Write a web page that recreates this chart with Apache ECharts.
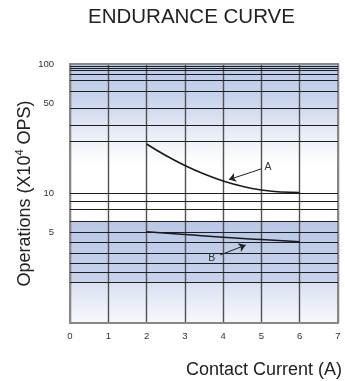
<!DOCTYPE html>
<html><head><meta charset="utf-8">
<script src="https://cdn.jsdelivr.net/npm/echarts@6/dist/echarts.min.js"></script>
<style>html,body{margin:0;padding:0;background:#fff}#c{width:345px;height:381px}</style>
</head><body><div id="c"></div>
<script>
// ---- data ----
const xTicks = [0, 1, 2, 3, 4, 5, 6, 7];
const yTickLabels = [5, 10, 50, 100];
const yGridValues = [96.5, 93.1, 89.1, 83.7, 74.6, 61.3, 45.5, 33.6, 25.1, 10, 8.7, 7.6, 6.06, 5.02, 4.2, 3.45, 2.89, 2.45, 2.06];
const currentA = [2, 2.5, 3, 3.5, 4, 4.5, 5, 5.5, 6];
const opsA = [24.1, 19.66, 16.45, 14.15, 12.49, 11.36, 10.64, 10.27, 10.18];
const currentB = [2, 3, 4, 5, 6];
const opsB = [5.07, 4.83, 4.59, 4.41, 4.24];
const bandRanges = [[100, 16.6], [6.06, 2.06], [2.06, 1]];
const labelA = { text: 'A', at: [5.17, 15.9], arrowFrom: [5.0, 15.5], arrowTo: [4.15, 12.8] };
const labelB = { text: 'B', at: [3.7, 3.19], arrowFrom: [3.92, 3.35], arrowTo: [4.59, 4.0] };

const FONT = 'Liberation Sans';
const bandColors = [
  { type: 'linear', x: 0, y: 0, x2: 0, y2: 1, colorStops: [
    { offset: 0, color: '#b9c8e7' }, { offset: 0.35, color: '#c9d5ed' },
    { offset: 0.6, color: '#e0e6f4' }, { offset: 0.78, color: '#f0f3f9' }, { offset: 1, color: '#ffffff' }] },
  { type: 'linear', x: 0, y: 0, x2: 0, y2: 1, colorStops: [
    { offset: 0, color: '#bac8e7' }, { offset: 1, color: '#c8d3ec' }] },
  { type: 'linear', x: 0, y: 0, x2: 0, y2: 1, colorStops: [
    { offset: 0, color: '#d9e1f2' }, { offset: 1, color: '#f7f8fc' }] }
];

function zip(xs, ys) { return xs.map((x, i) => [x, ys[i]]); }
function annot(a) {
  return {
    markLine: {
      silent: true, symbol: ['none', 'arrow'], symbolSize: 7, label: { show: false },
      lineStyle: { color: '#222', width: 1, type: 'solid' },
      data: [[{ coord: a.arrowFrom }, { coord: a.arrowTo }]]
    },
    markPoint: {
      silent: true, symbol: 'circle', symbolSize: 0,
      label: { show: true, position: 'inside', formatter: a.text, color: '#333', fontSize: 10.5, fontFamily: FONT },
      data: [{ coord: a.at }]
    }
  };
}

const chart = echarts.init(document.getElementById('c'), null, { renderer: 'canvas' });
chart.setOption({
  animation: false,
  backgroundColor: '#ffffff',
  title: {
    text: 'ENDURANCE CURVE', left: 88, top: 7, padding: 0,
    textStyle: { fontFamily: FONT, fontSize: 20.5, fontWeight: 'normal', color: '#222' }
  },
  grid: { left: 70, right: 6, top: 64, bottom: 58, show: true, z: 4,
          borderColor: '#888', borderWidth: 2, backgroundColor: 'transparent' },
  xAxis: {
    type: 'value', min: xTicks[0], max: xTicks[xTicks.length - 1], interval: 1, z: 3,
    name: 'Contact Current (A)', nameLocation: 'end', nameGap: 4,
    nameTextStyle: { fontFamily: FONT, fontSize: 18, color: '#222', align: 'right', verticalAlign: 'top', padding: [38, 0, 0, 0] },
    axisLine: { show: false }, axisTick: { show: false },
    axisLabel: { fontFamily: FONT, fontSize: 9.5, color: '#333', margin: 8 },
    splitLine: { show: true, lineStyle: { color: '#505050', width: 1.4 } }
  },
  yAxis: {
    type: 'log', logBase: 10, min: 1, max: 100,
    name: 'Operations (X10{sup|4} OPS)', nameLocation: 'middle', nameGap: 34,
    nameTextStyle: { fontFamily: FONT, fontSize: 18, color: '#222', lineHeight: 22,
      rich: { sup: { fontFamily: FONT, fontSize: 11, color: '#222', verticalAlign: 'top', lineHeight: 12 } } },
    axisLine: { show: false }, axisTick: { show: false }, axisLabel: { show: false }, splitLine: { show: false }
  },
  series: [
    { name: 'bands', type: 'line', data: [], silent: true,
      markArea: { silent: true, data: bandRanges.map((r, i) => [{ yAxis: r[0], itemStyle: { color: bandColors[i] } }, { yAxis: r[1] }]) } },
    { name: 'gridlines', type: 'line', data: [], silent: true,
      markLine: { silent: true, symbol: ['none', 'none'], label: { show: false },
        lineStyle: { color: '#1e1e1e', width: 1.2, type: 'solid' },
        data: yGridValues.map(v => ({ yAxis: v })) } },
    { name: 'ticks', type: 'line', data: [], silent: true,
      markLine: { silent: true, symbol: ['none', 'none'],
        lineStyle: { color: 'rgba(0,0,0,0)', width: 1 },
        label: { show: true, position: 'start', distance: 16, formatter: p => String(p.value),
          fontFamily: FONT, fontSize: 9.5, color: '#333' },
        data: yTickLabels.map(v => ({ yAxis: v })) } },
    Object.assign({ name: 'A', type: 'line', smooth: true, showSymbol: false, symbol: 'none', z: 6,
      lineStyle: { color: '#1a1a1a', width: 1.6 }, data: zip(currentA, opsA) }, annot(labelA)),
    Object.assign({ name: 'B', type: 'line', smooth: true, showSymbol: false, symbol: 'none', z: 6,
      lineStyle: { color: '#1a1a1a', width: 1.6 }, data: zip(currentB, opsB) }, annot(labelB))
  ]
});
</script></body></html>
